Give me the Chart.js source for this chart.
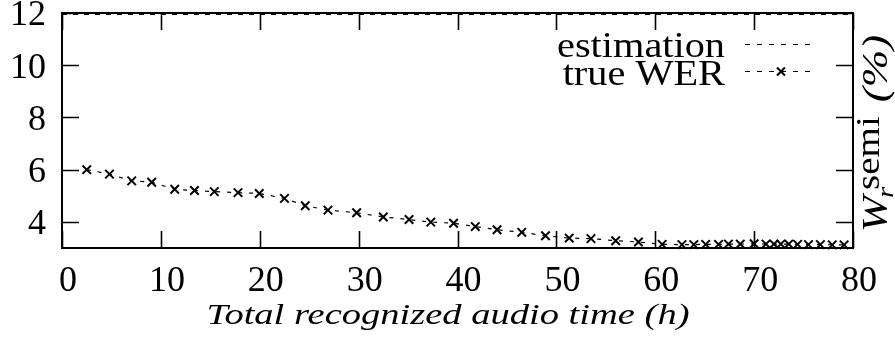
<!DOCTYPE html>
<html><head><meta charset="utf-8">
<script src="https://cdn.jsdelivr.net/npm/chart.js@4"></script>
<style>html,body{margin:0;padding:0;background:#fff;}canvas{display:block;}</style>
</head><body>
<canvas id="c" width="895" height="339"></canvas>
<script>
// ---- data ----
const hours = [2.5, 4.8, 7.05, 9.07, 11.4, 13.4, 15.4, 17.8, 19.95, 22.5, 24.6, 26.9, 29.8, 32.5, 35.1, 37.3, 39.6, 41.8, 44.0, 46.5, 48.9, 51.3, 53.5, 56.0, 58.3, 60.7, 62.7, 63.9, 65.1, 66.4, 67.4, 68.6, 70.0, 71.2, 72.0, 72.7, 73.5, 74.4, 75.5, 76.7, 77.9, 79.1];
const trueWER = [6.0, 5.83, 5.57, 5.52, 5.25, 5.2, 5.16, 5.12, 5.09, 4.9, 4.62, 4.45, 4.35, 4.19, 4.09, 3.99, 3.95, 3.82, 3.7, 3.6, 3.47, 3.38, 3.36, 3.28, 3.23, 3.14, 3.13, 3.13, 3.14, 3.14, 3.15, 3.15, 3.16, 3.15, 3.15, 3.15, 3.15, 3.14, 3.13, 3.13, 3.12, 3.12];
const estimationHours = [0, 80];
const estimationWER = [11.95, 11.95];
const xTicks = [0, 10, 20, 30, 40, 50, 60, 70, 80];
const yTicks = [4, 6, 8, 10, 12];
const xTitle = 'Total recognized audio time (h)';
const seriesNames = ['estimation', 'true WER'];

const SERIF = '"Liberation Serif", "Times New Roman", serif';

function drawStretched(ctx, text, x, y, font, sx, align) {
  ctx.save();
  ctx.font = font;
  const w = ctx.measureText(text).width * sx;
  let x0 = x;
  if (align === 'right') x0 = x - w;
  else if (align === 'center') x0 = x - w / 2;
  ctx.translate(x0, y);
  ctx.scale(sx, 1);
  ctx.textAlign = 'left';
  ctx.textBaseline = 'alphabetic';
  ctx.fillText(text, 0, 0);
  ctx.restore();
  return w;
}

const framePlugin = {
  id: 'frame',
  afterDatasetsDraw(chart) {
    const ctx = chart.ctx;
    const a = chart.chartArea;
    const xs = chart.scales.x, ys = chart.scales.y;
    ctx.save();
    ctx.strokeStyle = '#000';
    ctx.setLineDash([]);
    ctx.lineWidth = 1.6;
    const tl = 17;
    ctx.beginPath();
    xTicks.forEach(v => {
      const px = Math.round(xs.getPixelForValue(v)) + 0.5;
      ctx.moveTo(px, a.bottom); ctx.lineTo(px, a.bottom - tl);
      ctx.moveTo(px, a.top); ctx.lineTo(px, a.top + tl);
    });
    yTicks.forEach(v => {
      const py = Math.round(ys.getPixelForValue(v)) + 0.5;
      ctx.moveTo(a.left, py); ctx.lineTo(a.left + tl, py);
      ctx.moveTo(a.right, py); ctx.lineTo(a.right - tl, py);
    });
    ctx.stroke();
    ctx.lineWidth = 2;
    ctx.strokeRect(a.left, a.top, a.right - a.left, a.bottom - a.top);
    ctx.restore();
  },
  afterDraw(chart) {
    const ctx = chart.ctx;
    ctx.save();
    ctx.fillStyle = '#000';
    // legend
    drawStretched(ctx, seriesNames[0], 725, 57, '36px ' + SERIF, 1.12, 'right');
    drawStretched(ctx, seriesNames[1], 725, 85, '36px ' + SERIF, 1.12, 'right');
    ctx.strokeStyle = '#000';
    ctx.lineWidth = 1.2;
    ctx.setLineDash([5, 7]);
    ctx.beginPath(); ctx.moveTo(745, 44.5); ctx.lineTo(811, 44.5); ctx.stroke();
    ctx.beginPath(); ctx.moveTo(745, 71.5); ctx.lineTo(811, 71.5); ctx.stroke();
    ctx.setLineDash([]);
    ctx.lineWidth = 2;
    const cx = 781, cy = 71.5, r = 4;
    ctx.beginPath();
    ctx.moveTo(cx - r, cy - r); ctx.lineTo(cx + r, cy + r);
    ctx.moveTo(cx - r, cy + r); ctx.lineTo(cx + r, cy - r);
    ctx.stroke();
    // x title
    ctx.font = 'italic 30px ' + SERIF;
    const tw = ctx.measureText(xTitle).width;
    drawStretched(ctx, xTitle, 448, 324, 'italic 30px ' + SERIF, 483 / tw, 'center');
    // right rotated y title: W_r^semi (%)
    ctx.translate(887, 232);
    ctx.rotate(-Math.PI / 2);
    let u = 0;
    u += drawStretched(ctx, 'W', u, 0, 'italic 36px ' + SERIF, 1.2, 'left');
    drawStretched(ctx, 'r', u - 2, 6, 'italic 24px ' + SERIF, 1.2, 'left');
    u += 6;
    u += drawStretched(ctx, 'semi', u, -8, '34px ' + SERIF, 1.15, 'left');
    u += 14;
    drawStretched(ctx, '(%)', u, 0, 'italic 36px ' + SERIF, 1.25, 'left');
    ctx.restore();
  }
};

new Chart(document.getElementById('c'), {
  type: 'scatter',
  data: {
    datasets: [
      {
        label: seriesNames[0],
        data: estimationHours.map((h, i) => ({ x: h, y: estimationWER[i] })),
        showLine: true,
        borderColor: '#000',
        borderWidth: 1.2,
        borderDash: [5, 6],
        pointRadius: 0,
        clip: false
      },
      {
        label: seriesNames[1],
        data: hours.map((h, i) => ({ x: h, y: trueWER[i] })),
        showLine: true,
        borderColor: '#000',
        borderWidth: 1.2,
        borderDash: [4, 7],
        pointStyle: 'crossRot',
        pointRadius: 6,
        pointBorderWidth: 2,
        pointBorderColor: '#000',
        pointBackgroundColor: '#000',
        clip: false
      }
    ]
  },
  options: {
    responsive: false,
    animation: false,
    devicePixelRatio: 1,
    layout: { padding: { left: 0, right: 42, top: 13, bottom: 0 } },
    plugins: { legend: { display: false }, tooltip: { enabled: false } },
    scales: {
      x: {
        type: 'linear', min: 0, max: 80,
        grid: { display: false, drawTicks: false },
        border: { display: false },
        afterBuildTicks: s => { s.ticks = xTicks.map(v => ({ value: v })); },
        afterFit: s => { s.height = 91; s.paddingLeft = 0; s.paddingRight = 0; },
        ticks: { color: '#000', font: { family: SERIF, size: 36 }, padding: 12, labelOffset: 6, maxRotation: 0, autoSkip: false }
      },
      y: {
        type: 'linear', min: 3, max: 12,
        grid: { display: false, drawTicks: false },
        border: { display: false },
        afterBuildTicks: s => { s.ticks = yTicks.map(v => ({ value: v })); },
        afterFit: s => { s.width = 62; s.paddingTop = 0; s.paddingBottom = 0; },
        ticks: { color: '#000', font: { family: SERIF, size: 36 }, padding: 16, labelOffset: 3, autoSkip: false }
      }
    }
  },
  plugins: [framePlugin]
});
</script>
</body></html>
